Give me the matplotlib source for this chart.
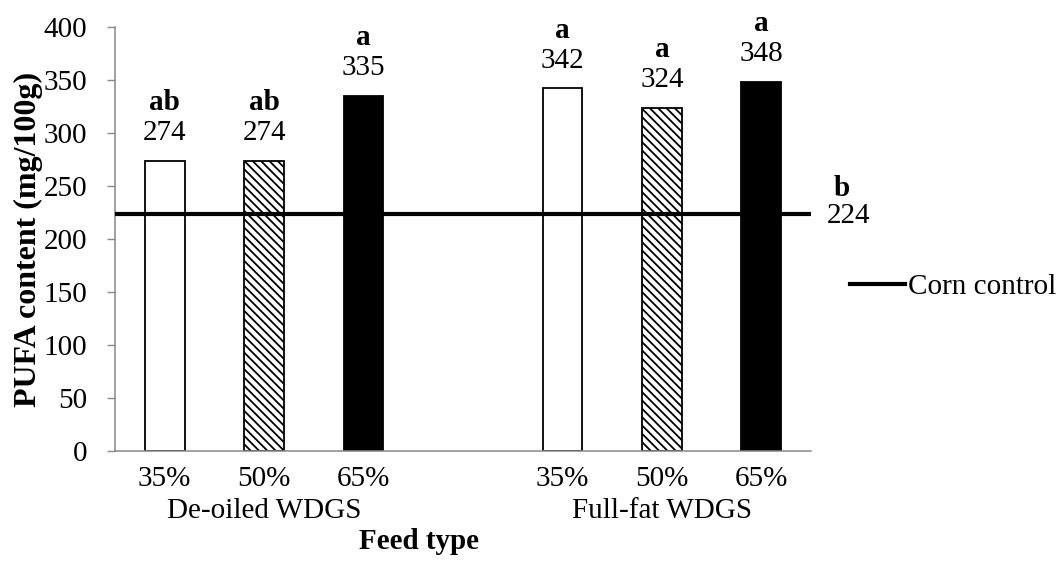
import matplotlib
matplotlib.use('Agg')
import matplotlib.pyplot as plt
import numpy as np

# data
groups = ['De-oiled WDGS', 'Full-fat WDGS']
levels = ['35%', '50%', '65%']
deoiled = [274, 274, 335]
fullfat = [342, 324, 348]
deoiled_sig = ['ab', 'ab', 'a']
fullfat_sig = ['a', 'a', 'a']
corn_control = 224
corn_sig = 'b'

plt.rcParams['font.family'] = ['Liberation Serif', 'DejaVu Serif']
plt.rcParams['font.size'] = 21
plt.rcParams['hatch.linewidth'] = 1.3

fig = plt.figure(figsize=(10.62, 5.65), dpi=100)
ax = fig.add_axes([0.1083, 0.2018, 0.6554, 0.7504])

# three bars per group, one empty slot between the groups
x_pos = np.array([0, 1, 2, 4, 5, 6])
vals = deoiled + fullfat
sigs = deoiled_sig + fullfat_sig
faces = ['white', 'white', 'black'] * 2
hatches = ['', '\\\\\\\\', ''] * 2

for x, v, fc, h in zip(x_pos, vals, faces, hatches):
    ax.bar(x, v, width=0.4, color=fc, edgecolor='black', hatch=h, linewidth=1.3, zorder=2)

for x, v, s in zip(x_pos, vals, sigs):
    ax.annotate(str(v), (x, v), xytext=(0, 20), textcoords='offset points',
                ha='center', va='center')
    ax.annotate(s, (x, v), xytext=(0, 42), textcoords='offset points',
                ha='center', va='center', fontweight='bold')

ax.axhline(corn_control, color='black', linewidth=3, zorder=3, label='Corn control')
ax.annotate(str(corn_control), (6.5, corn_control), xytext=(27, -2), textcoords='offset points',
            ha='center', va='center', annotation_clip=False)
ax.annotate(corn_sig, (6.5, corn_control), xytext=(22, 18), textcoords='offset points',
            ha='center', va='center', fontweight='bold', annotation_clip=False)

ax.set_xlim(-0.5, 6.5)
ax.set_ylim(0, 400)
ax.set_yticks(np.arange(0, 401, 50))
ax.set_xticks(x_pos)
ax.set_xticklabels(levels * 2)
ax.tick_params(axis='x', length=0, pad=11)
ax.tick_params(axis='y', length=6, width=1, color='#888888', pad=14)

for side in ['top', 'right']:
    ax.spines[side].set_visible(False)
for side in ['left', 'bottom']:
    ax.spines[side].set_color('#888888')
    ax.spines[side].set_linewidth(1.1)

for i, g in enumerate(groups):
    ax.text(x_pos[i * 3 + 1], -0.142, g, transform=ax.get_xaxis_transform(),
            ha='center', va='center')

ax.set_ylabel('PUFA content (mg/100g)', fontweight='bold', fontsize=23)
ax.yaxis.set_label_coords(-0.103, 0.5)
ax.set_xlabel('Feed type', fontweight='bold')
ax.xaxis.set_label_coords(0.437, -0.182)

ax.legend(loc='center left', bbox_to_anchor=(0.8004, 0.492), bbox_transform=fig.transFigure,
          frameon=False, handlelength=1.9, handletextpad=0.1, borderpad=0, borderaxespad=0)

fig.savefig('out.png', dpi=100)
